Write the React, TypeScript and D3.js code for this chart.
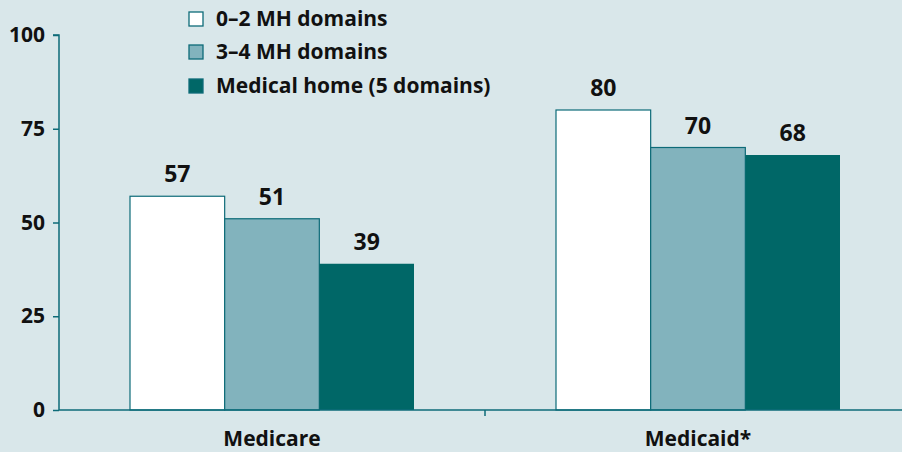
import React, { useEffect, useRef } from "react";
import * as d3 from "d3";

const groups = ["Medicare", "Medicaid*"];
const seriesNames = ["0\u20132 MH domains", "3\u20134 MH domains", "Medical home (5 domains)"];
const seriesColors = ["#ffffff", "#82b3bd", "#006767"];
const lowDomains = [57, 80];
const midDomains = [51, 70];
const medicalHome = [39, 68];
const yTicks = [0, 25, 50, 75, 100];

const W = 902;
const H = 452;
const FONT = "'Open Sans', sans-serif";
const STROKE = "#0d6b78";

export default function App() {
  const svgRef = useRef<SVGSVGElement>(null);

  useEffect(() => {
    const svg = d3.select(svgRef.current);
    svg.selectAll("*").remove();

    const margin = { top: 35, right: 0, bottom: 42, left: 59 };
    const x0 = d3.scaleBand().domain(groups).range([margin.left, 911]).paddingInner(0).paddingOuter(0);
    const y = d3.scaleLinear().domain([0, 100]).range([H - margin.bottom, margin.top]);
    const x1 = d3.scaleBand().domain(seriesNames).range([0, x0.bandwidth()]).paddingOuter(0.75).paddingInner(0);

    svg.append("rect").attr("width", W).attr("height", H).attr("fill", "#d9e7ea");

    const values = [lowDomains, midDomains, medicalHome];
    const rows = groups.map((g, gi) => seriesNames.map((s, si) => ({ g, s, si, v: values[si][gi] })));

    const gGroups = svg.selectAll(".grp").data(rows).join("g")
      .attr("class", "grp")
      .attr("transform", (_, i) => `translate(${x0(groups[i])},0)`);

    gGroups.selectAll("rect").data(d => d).join("rect")
      .attr("x", d => x1(d.s)!)
      .attr("y", d => y(d.v))
      .attr("width", x1.bandwidth())
      .attr("height", d => y(0) - y(d.v))
      .attr("fill", d => seriesColors[d.si])
      .attr("stroke", d => (d.si === 2 ? "none" : STROKE))
      .attr("stroke-width", 1.2);

    gGroups.selectAll("text").data(d => d).join("text")
      .attr("x", d => x1(d.s)! + x1.bandwidth() / 2)
      .attr("y", d => y(d.v) - 14)
      .attr("text-anchor", "middle")
      .attr("font-family", FONT)
      .attr("font-weight", 700)
      .attr("font-size", 23)
      .attr("fill", "#111")
      .text(d => d.v);

    // y axis
    const yAxis = svg.append("g").attr("transform", `translate(${margin.left},0)`)
      .call(d3.axisLeft(y).tickValues(yTicks).tickSize(6).tickPadding(8));
    yAxis.select(".domain").attr("stroke", STROKE).attr("stroke-width", 1.5).attr("d", `M-6,${y(100)}H0V${y(0)}`);
    yAxis.selectAll(".tick line").attr("stroke", STROKE).attr("stroke-width", 1.5);
    yAxis.selectAll(".tick text")
      .attr("font-family", FONT).attr("font-weight", 700).attr("font-size", 21).attr("fill", "#111");

    // x axis
    const xAxis = svg.append("g").attr("transform", `translate(0,${y(0)})`)
      .call(d3.axisBottom(x0).tickSize(0).tickPadding(21));
    xAxis.select(".domain").attr("stroke", STROKE).attr("stroke-width", 1.5).attr("d", `M${margin.left},0H${W}`);
    xAxis.selectAll(".tick text")
      .attr("font-family", FONT).attr("font-weight", 700).attr("font-size", 21).attr("fill", "#111");
    xAxis.append("line")
      .attr("x1", x0("Medicaid*")!).attr("x2", x0("Medicaid*")!)
      .attr("y1", 0).attr("y2", 6)
      .attr("stroke", STROKE).attr("stroke-width", 1.5);

    // legend
    const legendY = [19, 52, 86];
    const legend = svg.selectAll(".leg").data(seriesNames).join("g")
      .attr("class", "leg")
      .attr("transform", (_, i) => `translate(189,${legendY[i]})`);
    legend.append("rect")
      .attr("x", 0).attr("y", -7).attr("width", 14).attr("height", 14)
      .attr("fill", (_, i) => seriesColors[i])
      .attr("stroke", STROKE).attr("stroke-width", 1.3);
    legend.append("text")
      .attr("x", 27).attr("y", 0).attr("dy", "0.35em")
      .attr("font-family", FONT).attr("font-weight", 700).attr("font-size", 21).attr("fill", "#111")
      .text(d => d);
  }, []);

  return (
    <div style={{ position: "absolute", left: 0, top: 0 }}>
      <svg ref={svgRef} width={W} height={H} style={{ display: "block" }} />
    </div>
  );
}
